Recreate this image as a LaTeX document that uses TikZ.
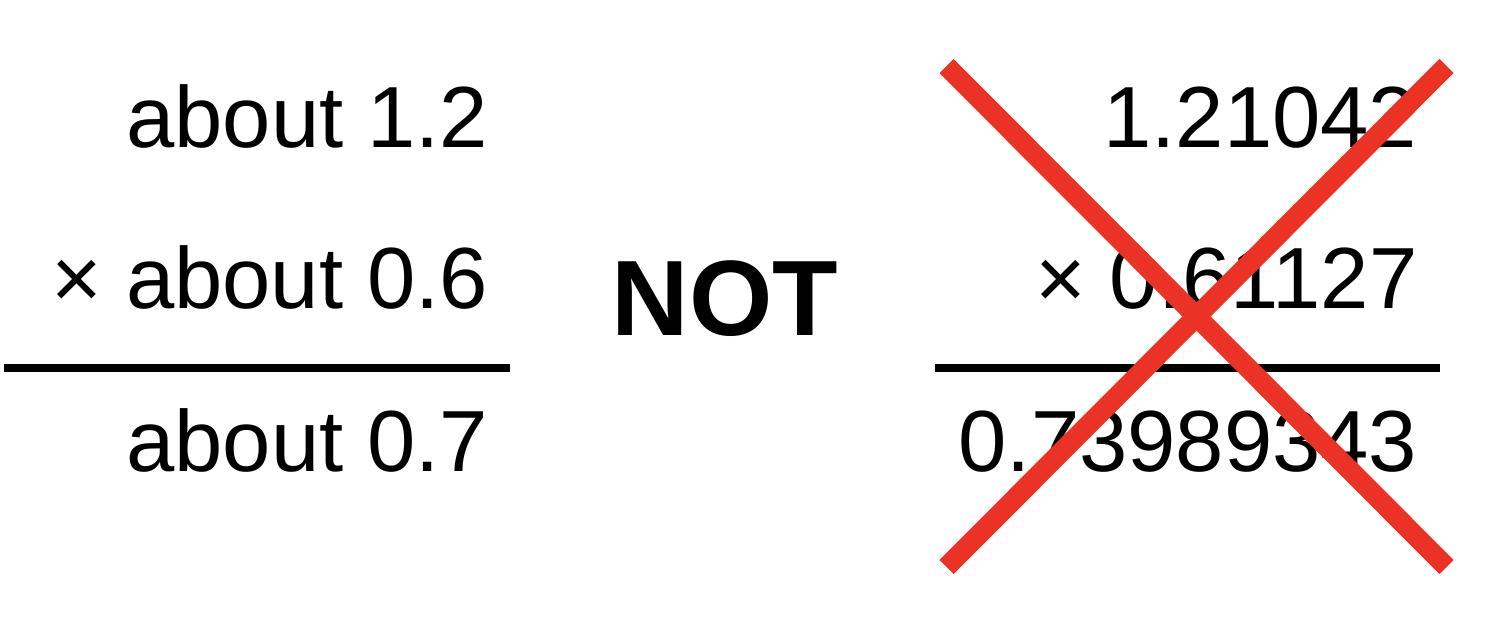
\documentclass[tikz,border=0pt]{standalone}
\usepackage{fontspec}
\setmainfont{Liberation Sans}
\usepackage{xcolor}
\usepackage{tikz}
\usetikzlibrary{calc}

\definecolor{crossred}{RGB}{234,51,37}

\begin{document}
\begin{tikzpicture}
		\useasboundingbox (0, 0) rectangle (15.08, 6.26);

		\begin{scope}[every node/.style={anchor = base east, inner sep = 0pt, font = \fontsize{24.7}{29}\selectfont}]
		\node (a1) at (4.89, 4.79) {about 1.2};
		\node (a2) at (4.89, 3.18) {× about 0.6};
		\node (a3) at (4.89, 1.55) {about 0.7};

		\node (b1) at (14.18, 4.79) {1.21042};
		\node (b2) at (14.18, 3.18) {× 0.61127};
		\node (b3) at (14.18, 1.55) {0.73989343};
		\end{scope}

		\begin{scope}[every node/.style={anchor = base, inner sep = 0pt}]
		\node (not) at (7.25, 2.91) {\fontsize{30.5}{36}\selectfont\bfseries NOT};
		\end{scope}

		\coordinate (la) at (0.04, 2.58);
		\coordinate (lb) at (5.10, 2.58);
		\coordinate (ra) at (9.35, 2.58);
		\coordinate (rb) at (14.40, 2.58);

		\draw [line width = 0.08cm] (la) -- (lb);
		\draw [line width = 0.08cm] (ra) -- (rb);

		\coordinate (tl) at (9.465, 5.60);
		\coordinate (tr) at (14.465, 5.60);
		\coordinate (bl) at (9.465, 0.59);
		\coordinate (br) at (14.465, 0.59);

		\draw [line width = 0.20cm, crossred] (tl) -- (br);
		\draw [line width = 0.20cm, crossred] (tr) -- (bl);

		\end{tikzpicture}
\end{document}
